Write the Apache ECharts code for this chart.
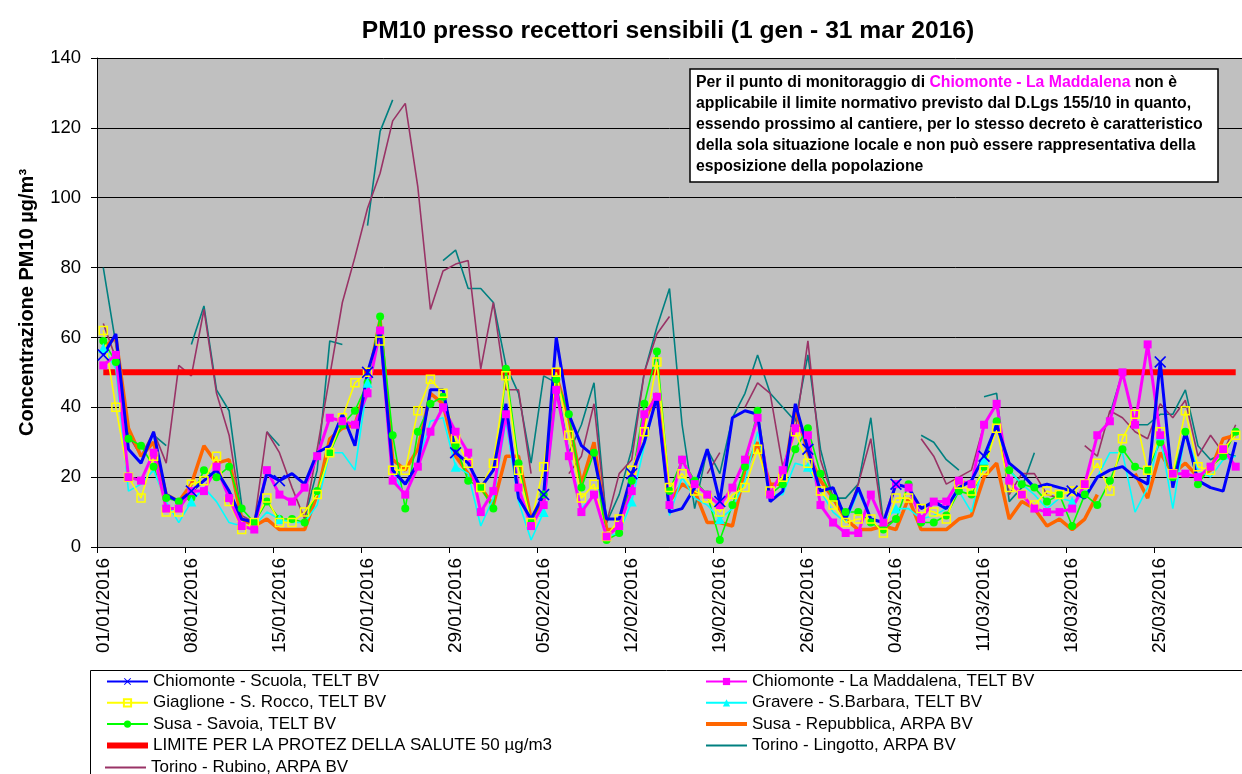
<!DOCTYPE html>
<html>
<head>
<meta charset="utf-8">
<title>PM10 presso recettori sensibili</title>
<script src="https://cdn.jsdelivr.net/npm/echarts@6/dist/echarts.min.js"></script>
<style>
  html, body { margin: 0; padding: 0; background: #fff; }
  #chart { width: 1242px; height: 774px; }
</style>
</head>
<body>
<div id="chart"></div>
<script>
// giorni 01/01/2016 - 31/03/2016
var days = [];
var monthLen = [31, 29, 31];
for (var m = 0; m < 3; m++) {
    for (var d = 1; d <= monthLen[m]; d++) {
        days.push((d < 10 ? '0' + d : d) + '/0' + (m + 1) + '/2016');
    }
}

var scuola = [55,61,28,24,33,15,13,16,19,22,16,8,7,21,19,21,18,27,29,38,29,50,62,22,18,24,45,45,27,24,17,22,41,14,8,15,60,38,29,26,8,8,21,30,43,10,11,17,28,13,37,39,38,13,16,41,28,16,17,8,17,8,7,18,17,11,13,11,17,19,26,35,24,21,17,18,17,16,14,20,22,23,20,18,53,17,33,19,17,16,30];
var maddalena = [52,55,20,19,27,11,11,16,16,23,14,6,5,22,15,13,17,26,37,36,35,44,62,19,15,23,33,40,33,27,10,16,38,17,6,12,45,26,10,15,3,6,16,38,43,12,25,18,15,12,17,25,37,15,22,34,32,12,7,4,4,15,7,18,17,8,13,13,19,18,35,41,19,15,11,10,10,11,18,32,36,50,35,58,32,21,21,20,23,28,23];
var giaglione = [62,40,20,14,26,10,10,18,19,26,13,5,7,14,7,7,10,15,27,37,47,50,59,22,22,39,48,44,31,24,17,24,49,22,7,23,50,32,14,18,3,8,22,33,53,17,21,16,14,10,15,17,28,16,20,33,24,16,12,7,8,8,4,14,14,11,10,8,18,16,22,34,17,15,12,16,15,16,18,24,16,31,38,22,33,21,39,23,22,28,32];
var gravere = [57,51,16,18,22,13,7,13,17,13,7,6,6,10,8,7,7,12,27,27,22,47,60,22,14,24,36,37,23,21,6,14,36,13,2,10,44,27,11,15,3,4,13,29,43,9,20,14,12,8,11,19,33,15,15,24,23,16,10,7,16,8,7,11,11,8,9,11,16,10,25,35,22,18,15,11,14,13,15,20,27,27,10,17,32,11,33,22,20,25,26];
var savoia = [59,53,31,29,23,14,13,14,22,20,23,11,7,13,8,8,7,16,27,35,39,47,66,32,11,33,41,43,29,19,17,11,51,24,7,15,48,38,17,27,2,4,19,41,56,16,25,19,15,2,12,23,39,15,18,28,34,21,14,10,10,7,5,8,18,7,7,9,16,15,23,36,22,18,17,13,15,6,15,12,19,28,23,22,30,20,33,18,23,26,33];
var repubblica = [57,60,34,26,30,15,13,18,29,24,25,8,6,8,5,5,5,15,31,34,35,47,65,25,22,28,44,41,26,21,17,12,26,26,8,13,49,37,18,30,5,5,19,36,44,13,18,16,7,7,6,22,30,18,18,40,27,19,14,8,5,5,6,5,14,5,5,5,8,9,20,24,8,13,11,6,8,5,8,15,null,null,21,14,27,21,24,20,22,31,32];
var limite = [];
for (var k = 0; k < days.length; k++) { limite.push(50); }
var lingotto = [80,58,33,null,32,29,null,58,69,45,39,12,null,33,29,null,8,22,59,58,null,92,119,128,null,null,null,82,85,74,74,70,52,44,24,49,47,27,35,47,7,15,28,50,63,74,35,11,28,21,37,44,55,44,40,36,55,28,14,14,18,37,7,null,null,32,30,25,22,null,43,44,13,17,27,null,null,null,null,null,38,50,35,35,38,38,45,29,25,27,26];
var rubino = [64,54,32,26,33,24,52,49,68,44,32,9,7,33,27,17,8,28,49,70,83,97,107,122,127,103,68,79,81,82,51,70,45,45,21,null,null,21,26,41,7,21,25,50,61,66,null,null,21,27,null,40,47,44,23,33,59,25,14,8,18,31,6,8,null,31,26,18,20,22,35,41,15,21,21,15,14,null,29,26,39,37,33,31,41,37,42,26,32,27,35];

var yTicks = [0, 20, 40, 60, 80, 100, 120, 140];

var chart = echarts.init(document.getElementById('chart'), null, { renderer: 'canvas' });
var font = 'Arial, "Liberation Sans", sans-serif';
var xMark = 'path://M1,0L5,4L9,0L10,1L6,5L10,9L9,10L5,6L1,10L0,9L4,5L0,1Z';
var legendText = { fontFamily: font, fontSize: 17, color: '#000' };
var noMark = { color: 'rgba(0,0,0,0)', opacity: 0 };

chart.setOption({
    animation: false,
    backgroundColor: '#fff',
    title: [
        {
            text: 'PM10 presso recettori sensibili (1 gen - 31 mar 2016)',
            left: 663,
            top: 14,
            textAlign: 'center',
            textStyle: { fontFamily: font, fontSize: 24.6, fontWeight: 'bold', color: '#000' }
        },
        {
            // riquadro di nota
            text: '{a|Per il punto di monitoraggio di }{m|Chiomonte - La Maddalena}{a| non è}\n' +
                  '{a|applicabile il limite normativo previsto dal D.Lgs 155/10 in quanto,}\n' +
                  '{a|essendo prossimo al cantiere, per lo stesso decreto è caratteristico}\n' +
                  '{a|della sola situazione locale e non può essere rappresentativa della}\n' +
                  '{a|esposizione della popolazione}',
            left: 690,
            top: 69,
            padding: [3, 16, 5, 6],
            backgroundColor: '#fff',
            borderColor: '#000',
            borderWidth: 1.5,
            textStyle: {
                fontFamily: font, fontSize: 15.8, fontWeight: 'bold', color: '#000', lineHeight: 21,
                rich: {
                    a: { fontFamily: font, fontSize: 15.8, fontWeight: 'bold', color: '#000', lineHeight: 21 },
                    m: { fontFamily: font, fontSize: 15.8, fontWeight: 'bold', color: '#ff00ff', lineHeight: 21 }
                }
            }
        }
    ],
    grid: {
        left: 97,
        top: 58,
        width: 1147,
        height: 489,
        show: true,
        backgroundColor: '#c0c0c0',
        borderWidth: 0
    },
    legend: [
        {
            orient: 'vertical',
            left: 104,
            top: 673,
            padding: 0,
            itemWidth: 41,
            itemHeight: 9,
            itemGap: 4.3,
            textStyle: legendText,
            data: ['Chiomonte - Scuola, TELT BV', 'Giaglione - S. Rocco, TELT BV', 'Susa - Savoia, TELT BV',
                   { name: 'LIMITE PER LA PROTEZ DELLA SALUTE 50 µg/m3', itemStyle: noMark, lineStyle: { width: 6 } }]
        },
        {
            orient: 'vertical',
            left: 104,
            top: 759,
            padding: 0,
            itemWidth: 41,
            itemHeight: 9,
            textStyle: legendText,
            data: [{ name: 'Torino - Rubino, ARPA BV', itemStyle: noMark, lineStyle: { width: 2 } }]
        },
        {
            orient: 'vertical',
            left: 704,
            top: 673,
            padding: 0,
            itemWidth: 41,
            itemHeight: 9,
            itemGap: 4.3,
            textStyle: legendText,
            data: ['Chiomonte - La Maddalena, TELT BV', 'Gravere - S.Barbara, TELT BV',
                   { name: 'Susa - Repubblica, ARPA BV', itemStyle: noMark, lineStyle: { width: 4 } },
                   { name: 'Torino - Lingotto, ARPA BV', itemStyle: noMark, lineStyle: { width: 2 } }]
        }
    ],
    graphic: [
        {
            type: 'rect',
            left: 88,
            top: 668,
            shape: { width: 1200, height: 130 },
            style: { fill: 'none', stroke: '#000', lineWidth: 1 }
        }
    ],
    xAxis: {
        type: 'category',
        data: days,
        boundaryGap: true,
        axisLine: { lineStyle: { color: '#000', width: 1 } },
        axisTick: { show: true, interval: 6, length: 6, lineStyle: { color: '#000' } },
        axisLabel: {
            interval: 6,
            rotate: 90,
            margin: 11,
            padding: [0, 0, 6, 0],
            fontFamily: font,
            fontSize: 19,
            color: '#000'
        },
        splitLine: { show: false }
    },
    yAxis: {
        type: 'value',
        min: yTicks[0],
        max: yTicks[yTicks.length - 1],
        interval: 20,
        name: 'Concentrazione PM10 µg/m³',
        nameLocation: 'middle',
        nameGap: 60,
        nameTextStyle: { fontFamily: font, fontSize: 20, fontWeight: 'bold', color: '#000' },
        axisLine: { show: true, lineStyle: { color: '#000', width: 1 } },
        axisTick: { show: true, length: 6, lineStyle: { color: '#000' } },
        axisLabel: { margin: 16, fontFamily: font, fontSize: 18.5, color: '#000' },
        splitLine: { show: true, lineStyle: { color: '#000', width: 1 } }
    },
    series: [
        {
            name: 'Torino - Lingotto, ARPA BV',
            type: 'line',
            data: lingotto,
            symbol: 'none',
            connectNulls: false,
            itemStyle: { color: '#008080' },
            lineStyle: { color: '#008080', width: 1.6 }
        },
        {
            name: 'Torino - Rubino, ARPA BV',
            type: 'line',
            data: rubino,
            symbol: 'none',
            connectNulls: false,
            itemStyle: { color: '#993366' },
            lineStyle: { color: '#993366', width: 1.6 }
        },
        {
            name: 'LIMITE PER LA PROTEZ DELLA SALUTE 50 µg/m3',
            type: 'line',
            data: limite,
            symbol: 'none',
            itemStyle: { color: '#ff0000' },
            lineStyle: { color: '#ff0000', width: 6 }
        },
        {
            name: 'Susa - Repubblica, ARPA BV',
            type: 'line',
            data: repubblica,
            symbol: 'none',
            connectNulls: false,
            itemStyle: { color: '#ff6600' },
            lineStyle: { color: '#ff6600', width: 3.5 }
        },
        {
            name: 'Susa - Savoia, TELT BV',
            type: 'line',
            data: savoia,
            symbol: 'circle',
            symbolSize: 8,
            itemStyle: { color: '#00ff00' },
            lineStyle: { color: '#00ff00', width: 1.6 }
        },
        {
            name: 'Gravere - S.Barbara, TELT BV',
            type: 'line',
            data: gravere,
            symbol: 'triangle',
            symbolSize: 10,
            itemStyle: { color: '#00ffff' },
            lineStyle: { color: '#00ffff', width: 1.6 }
        },
        {
            name: 'Giaglione - S. Rocco, TELT BV',
            type: 'line',
            data: giaglione,
            symbol: 'rect',
            symbolSize: 8,
            itemStyle: { color: 'rgba(192,192,192,0)', borderColor: '#ffff00', borderWidth: 1.5 },
            lineStyle: { color: '#ffff00', width: 1.6 }
        },
        {
            name: 'Chiomonte - La Maddalena, TELT BV',
            type: 'line',
            data: maddalena,
            symbol: 'rect',
            symbolSize: 8,
            itemStyle: { color: '#ff00ff' },
            lineStyle: { color: '#ff00ff', width: 3 }
        },
        {
            name: 'Chiomonte - Scuola, TELT BV',
            type: 'line',
            data: scuola,
            symbol: xMark,
            symbolSize: 12,
            itemStyle: { color: '#0000ff' },
            lineStyle: { color: '#0000ff', width: 3 }
        }
    ]
});
</script>
</body>
</html>
